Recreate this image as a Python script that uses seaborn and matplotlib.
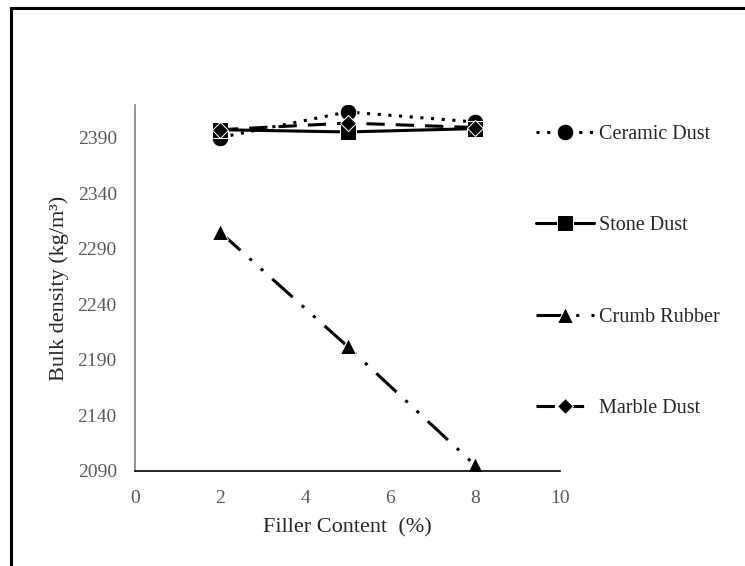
import matplotlib
matplotlib.use("Agg")
import matplotlib.pyplot as plt
import seaborn as sns
from matplotlib.patches import Rectangle

# data
filler = [2, 5, 8]
ceramic_dust = [2390, 2413, 2404]
stone_dust = [2397, 2395, 2398]
crumb_rubber = [2305, 2202, 2095]
marble_dust = [2397, 2403, 2399]

sns.set_style("white")
plt.rcParams['font.family'] = ['Liberation Serif', 'DejaVu Serif']

fig = plt.figure(figsize=(7.45, 5.66), dpi=100)
ax = fig.add_axes([0.181, 0.168, 0.571, 0.646])

lw = 2.2
sns.lineplot(x=filler, y=ceramic_dust, ax=ax, color='black', marker='o',
             markersize=12, linestyle=(0, (1, 2.5)), linewidth=lw,
             label='Ceramic Dust')
sns.lineplot(x=filler, y=stone_dust, ax=ax, color='black', marker='s',
             markersize=11, linestyle='-', linewidth=lw, label='Stone Dust')
sns.lineplot(x=filler, y=crumb_rubber, ax=ax, color='black', marker='^',
             markersize=12, linestyle=(0, (9, 4, 1, 4, 1, 4)), linewidth=lw,
             label='Crumb Rubber')
sns.lineplot(x=filler, y=marble_dust, ax=ax, color='black', marker='D',
             markersize=8, linestyle=(0, (6, 3.6)), linewidth=lw,
             label='Marble Dust')

ax.set_xlim(0, 10)
ax.set_ylim(2090, 2419)
ax.set_xticks(range(0, 11, 2))
ax.set_yticks(range(2090, 2391, 50))

for s in ['top', 'right']:
    ax.spines[s].set_visible(False)
ax.spines['left'].set_color('#808080')
ax.spines['bottom'].set_color('black')
ax.spines['left'].set_linewidth(1.2)
ax.spines['bottom'].set_linewidth(1.2)
ax.tick_params(axis='both', direction='in', length=5, color='#808080',
               labelsize=14, labelcolor='#595959')
ax.tick_params(axis='x', pad=14)
ax.tick_params(axis='y', pad=13)

ax.set_xlabel('Filler Content  (%)', fontsize=16, labelpad=8)
ax.set_ylabel('Bulk density (kg/m³)', fontsize=16, labelpad=6)

ax.legend_.remove()
handles, labels = ax.get_legend_handles_labels()
fig.legend(handles, labels, loc='upper left', bbox_to_anchor=(0.695, 0.812),
           frameon=False, fontsize=14.5, labelspacing=3.6, handlelength=2.9,
           handletextpad=0.25)

# outer frame (left and top edges visible)
fig.patches.append(Rectangle((11 / 745, -0.1), 1.2, 1.1 - 8 / 566,
                             transform=fig.transFigure, fill=False,
                             edgecolor='black', linewidth=2.2))

fig.savefig('out.png', dpi=100)
